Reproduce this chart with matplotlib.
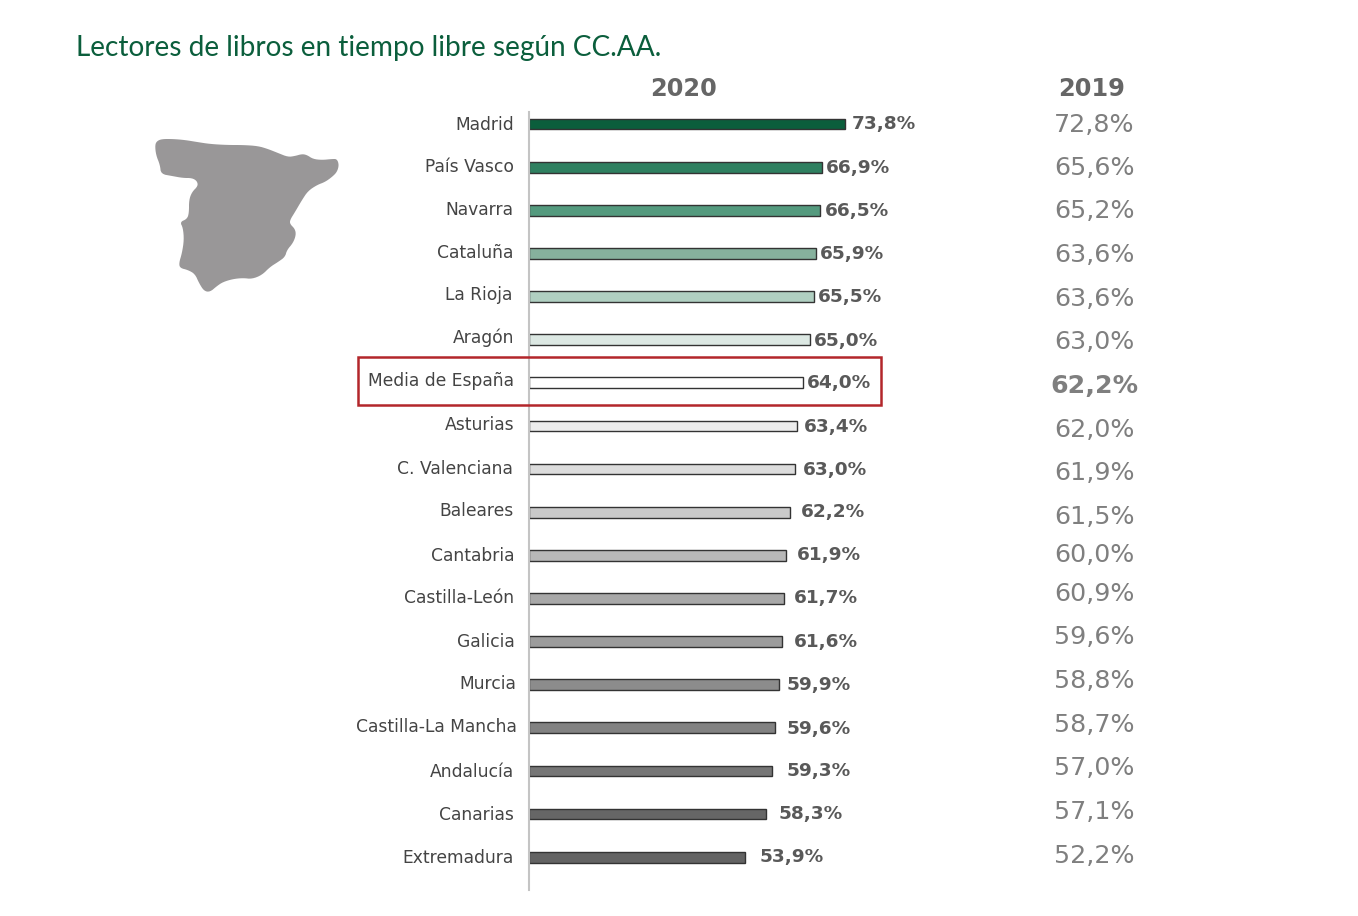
import numpy as np
import matplotlib
matplotlib.use("Agg")
import matplotlib.pyplot as plt
from matplotlib.patches import Polygon, Rectangle

plt.rcParams["font.family"] = ["DejaVu Sans"]

# values from the picture
regions = ["Madrid", "País Vasco", "Navarra", "Cataluña", "La Rioja", "Aragón",
           "Media de España", "Asturias", "C. Valenciana", "Baleares", "Cantabria",
           "Castilla-León", "Galicia", "Murcia", "Castilla-La Mancha", "Andalucía",
           "Canarias", "Extremadura"]
labels_2020 = ["73,8%", "66,9%", "66,5%", "65,9%", "65,5%", "65,0%", "64,0%", "63,4%", "63,0%",
               "62,2%", "61,9%", "61,7%", "61,6%", "59,9%", "59,6%", "59,3%", "58,3%", "53,9%"]
labels_2019 = ["72,8%", "65,6%", "65,2%", "63,6%", "63,6%", "63,0%", "62,2%", "62,0%", "61,9%",
               "61,5%", "60,0%", "60,9%", "59,6%", "58,8%", "58,7%", "57,0%", "57,1%", "52,2%"]
# the bars in the original don't follow their labels, so lengths are read separately
bar_lengths = [73.8, 68.4, 67.9, 67.1, 66.5, 65.7, 64.0, 62.7, 62.1,
               61.0, 60.0, 59.5, 59.1, 58.4, 57.5, 56.8, 55.4, 50.5]
bar_colors = ["#0b5e3c", "#2f8060", "#549a7e", "#86b19d", "#b0cfc1", "#dce8e3", "#ffffff", "#ececec", "#dcdcdc",
              "#cacaca", "#b8b8b8", "#a8a8a8", "#9c9c9c", "#8c8c8c", "#828282", "#767676", "#666666", "#636363"]

# label placement in pixels, the original was placed by hand
region_right = [514, 514, 513, 513, 512, 514, 514, 514, 513, 514, 514, 514, 515, 516, 517, 514, 514, 514]
region_y = [125, 167, 210, 253, 295, 338, 381, 425, 469, 511, 556, 598, 642, 684, 727, 772, 815, 858]
value_left = [852, 826, 825, 820, 818, 814, 807, 804, 803, 801, 797, 794, 794, 787, 787, 787, 779, 760]
value_y = [124, 168, 211, 254, 297, 341, 383, 427, 470, 512, 555, 598, 642, 685, 729, 771, 814, 857]
y_2019 = [125, 168, 211, 255, 299, 342, 386, 430, 473, 517, 555, 594, 637, 681, 725, 768, 812, 856]

# outline of Spain (pixels)
map_outline = [(155, 145), (157, 141), (162, 139), (173, 139), (185, 140), (197, 142), (210, 144), (227, 145),
               (243, 145), (258, 146), (268, 149), (278, 153), (288, 157), (295, 156), (302, 154), (307, 155),
               (313, 159), (322, 160), (332, 159), (337, 159), (339, 165), (337, 172), (332, 177), (325, 182),
               (317, 185), (308, 191), (302, 200), (295, 212), (290, 220), (290, 224), (295, 229), (296, 235),
               (293, 243), (287, 250), (285, 257), (278, 262), (270, 267), (262, 275), (252, 279), (243, 278),
               (233, 279), (223, 282), (217, 286), (210, 292), (204, 291), (199, 283), (195, 274), (188, 270),
               (180, 268), (179, 263), (182, 253), (184, 240), (183, 228), (180, 222), (187, 219), (189, 213),
               (189, 200), (192, 192), (198, 186), (197, 181), (192, 178), (183, 178), (172, 176), (161, 174),
               (160, 165), (156, 155)]

W, H = 1358, 916
fig = plt.figure(figsize=(W / 100, H / 100), dpi=100, facecolor="white")


def put(x, y, s, **kw):
    fig.text(x / W, 1 - y / H, s, **kw)


# bars: 4.28 px per unit, rows 43.12 px apart
ax = fig.add_axes([529 / W, 1 - 890 / H, 428 / W, 778 / H])
ax.barh(range(len(regions)), bar_lengths, height=0.25, color=bar_colors, edgecolor="#333333", linewidth=1.0)
ax.set_xlim(0, 100)
ax.set_ylim(17.76, -0.28)
ax.patch.set_alpha(0)
for side in ["top", "right", "bottom"]:
    ax.spines[side].set_visible(False)
ax.spines["left"].set_color("#c4c4c4")
ax.spines["left"].set_linewidth(1.5)
ax.set_xticks([])
ax.set_yticks([])

put(76, 48, "Lectores de libros en tiempo libre según CC.AA.", family="Lato", fontsize=20.2,
    color="#0b5e3c", va="center", ha="left")
put(684, 89, "2020", fontsize=17.3, fontweight="bold", color="#666666", ha="center", va="center")
put(1092, 89, "2019", fontsize=17.3, fontweight="bold", color="#666666", ha="center", va="center")

for i, name in enumerate(regions):
    put(region_right[i], region_y[i], name, fontsize=12.3, color="#444444", ha="right", va="center")
    put(value_left[i], value_y[i], labels_2020[i], fontsize=13.3, fontweight="bold", color="#595959",
        ha="left", va="center")
    bold = name == "Media de España"
    put(1094, y_2019[i], labels_2019[i], fontsize=18.2, color="#7f7f7f", ha="center", va="center",
        fontweight="bold" if bold else "normal")

# red box around the national average
fig.add_artist(Rectangle((357.5 / W, 1 - 404.5 / H), 523 / W, 47.5 / H, transform=fig.transFigure,
                         fill=False, edgecolor="#b3262b", linewidth=1.8))

# map, corners rounded a bit
pts = np.array(map_outline, dtype=float)
for _ in range(2):
    nxt = np.roll(pts, -1, axis=0)
    pts = np.column_stack([0.75 * pts + 0.25 * nxt, 0.25 * pts + 0.75 * nxt]).reshape(-1, 2)
pts = pts / [W, H]
pts[:, 1] = 1 - pts[:, 1]
fig.add_artist(Polygon(pts, closed=True, transform=fig.transFigure, facecolor="#999798", edgecolor="none"))

fig.savefig("out.png", dpi=100)
